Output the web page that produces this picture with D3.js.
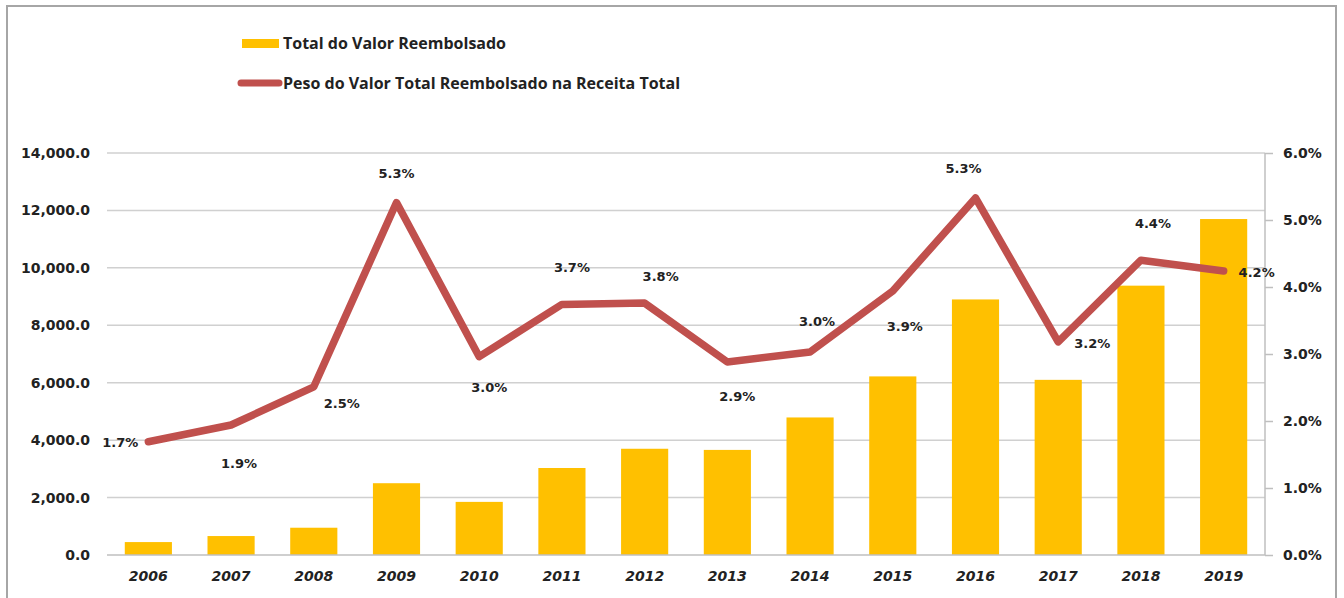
<!DOCTYPE html>
<html>
<head>
<meta charset="utf-8">
<script src="https://cdn.jsdelivr.net/npm/d3@7"></script>
<style>
  html, body { margin: 0; padding: 0; background: #fff; }
  svg { display: block; }
</style>
</head>
<body>
<svg id="chart" width="1344" height="598"></svg>
<script>
// Reimbursed totals per year (bars, left axis) and their share of total revenue (line, right axis, %)
const years = ["2006","2007","2008","2009","2010","2011","2012","2013","2014","2015","2016","2017","2018","2019"];
const reimbursed = [450, 660, 950, 2500, 1850, 3030, 3700, 3660, 4790, 6220, 8900, 6100, 9380, 11700];
const sharePct = [1.69, 1.94, 2.51, 5.26, 2.96, 3.74, 3.76, 2.88, 3.03, 3.94, 5.33, 3.18, 4.40, 4.24];
const leftTicks = [0, 2000, 4000, 6000, 8000, 10000, 12000, 14000];
const rightTicks = [0, 1, 2, 3, 4, 5, 6];
const legendLabels = ["Total do Valor Reembolsado", "Peso do Valor Total Reembolsado na Receita Total"];

// Nudges (dx, dy in px) for each percentage label relative to its point
const labelNudge = [[-28,1],[8,38],[28,17],[0,-29],[10,31],[10,-37],[16,-27],[10,34],[7,-31],[12,35],[-12,-29],[34,2],[12,-37],[33,2]];

const BAR = "#ffc000", LINE = "#c0504d", TEXT = "#222", GRID = "#d0d0d0";
const svg = d3.select("#chart");

// Outer frame
svg.append("rect").attr("x", 7).attr("y", 6).attr("width", 1329).attr("height", 600)
  .attr("fill", "none").attr("stroke", "#a6a6a6").attr("stroke-width", 2);

const plot = { left: 107, right: 1265, top: 153, bottom: 555 };

const x = d3.scaleBand().domain(years).range([plot.left, plot.right])
  .paddingInner(0.43).paddingOuter(0.215);
const yL = d3.scaleLinear().domain([0, 14000]).range([plot.bottom, plot.top]);
const yR = d3.scaleLinear().domain([0, 6]).range([plot.bottom, plot.top]);

// Horizontal gridlines from the left axis
svg.append("g").selectAll("line").data(leftTicks.filter(d => d > 0)).join("line")
  .attr("x1", plot.left).attr("x2", plot.right)
  .attr("y1", d => yL(d)).attr("y2", d => yL(d))
  .attr("stroke", GRID).attr("stroke-width", 1.5);

// Left axis labels
const leftAxis = d3.axisLeft(yL).tickValues(leftTicks).tickFormat(d3.format(",.1f")).tickSize(0).tickPadding(17);
const gL = svg.append("g").attr("transform", `translate(${plot.left},0)`).call(leftAxis);
gL.select(".domain").remove();
gL.selectAll("text").attr("fill", TEXT)
  .style("font-family", "'DejaVu Sans', Verdana, sans-serif").style("font-weight", "bold").style("font-size", "14px");

// Right axis with its own line and ticks
const rightAxis = d3.axisRight(yR).tickValues(rightTicks).tickFormat(d => d3.format(".1f")(d) + "%").tickSize(8).tickPadding(10);
const gR = svg.append("g").attr("transform", `translate(${plot.right},0)`).call(rightAxis);
gR.select(".domain").attr("stroke", "#bfbfbf").attr("stroke-width", 1.5).attr("d", `M0,${plot.top}V${plot.bottom}`);
gR.selectAll(".tick line").attr("stroke", "#bfbfbf").attr("stroke-width", 1.5);
gR.selectAll("text").attr("fill", TEXT)
  .style("font-family", "'DejaVu Sans', Verdana, sans-serif").style("font-weight", "bold").style("font-size", "14px");

// Bars
svg.append("g").selectAll("rect").data(years).join("rect")
  .attr("x", d => x(d)).attr("width", x.bandwidth())
  .attr("y", (d, i) => yL(reimbursed[i]))
  .attr("height", (d, i) => yL(0) - yL(reimbursed[i]))
  .attr("fill", BAR);

// Category axis along the bottom
const bottomAxis = d3.axisBottom(x).tickSize(0).tickPadding(16);
const gB = svg.append("g").attr("transform", `translate(0,${plot.bottom})`).call(bottomAxis);
gB.select(".domain").attr("stroke", "#bfbfbf").attr("stroke-width", 1.5).attr("d", `M${plot.left},0H${plot.right}`);
gB.selectAll("text").attr("fill", TEXT)
  .style("font-family", "'DejaVu Sans', Verdana, sans-serif").style("font-weight", "bold")
  .style("font-style", "italic").style("font-size", "14px");

// Share line
const px = (d, i) => x(years[i]) + x.bandwidth() / 2;
const line = d3.line().x((d, i) => px(d, i)).y(d => yR(d));
svg.append("path").datum(sharePct).attr("d", line)
  .attr("fill", "none").attr("stroke", LINE).attr("stroke-width", 7.5)
  .attr("stroke-linejoin", "round").attr("stroke-linecap", "round");

// Percentage labels
svg.append("g").selectAll("text").data(sharePct).join("text")
  .attr("x", (d, i) => px(d, i) + labelNudge[i][0])
  .attr("y", (d, i) => yR(d) + labelNudge[i][1])
  .attr("dy", "0.35em").attr("text-anchor", "middle")
  .attr("fill", TEXT)
  .style("font-family", "'DejaVu Sans', Verdana, sans-serif").style("font-weight", "bold").style("font-size", "13px")
  .text(d => d.toFixed(1) + "%");

// Legend
const lg = svg.append("g");
lg.append("rect").attr("x", 242).attr("y", 39).attr("width", 37).attr("height", 9).attr("fill", BAR);
lg.append("line").attr("x1", 241).attr("x2", 279).attr("y1", 83).attr("y2", 83)
  .attr("stroke", LINE).attr("stroke-width", 7).attr("stroke-linecap", "round");
lg.selectAll("text").data(legendLabels).join("text")
  .attr("x", 283).attr("y", (d, i) => 43 + i * 40).attr("dy", "0.35em")
  .attr("fill", TEXT)
  .style("font-family", "'Open Sans', sans-serif").style("font-weight", "bold").style("font-size", "16px")
  .text(d => d);
</script>
</body>
</html>
